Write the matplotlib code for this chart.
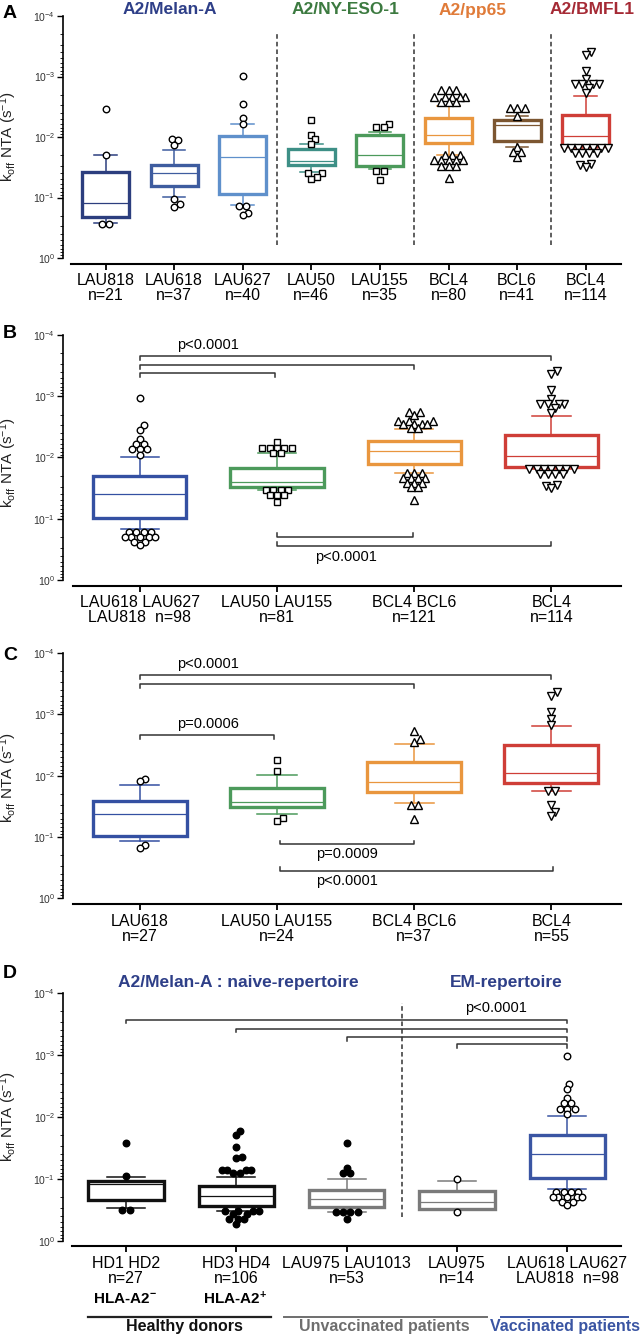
import numpy as np
import matplotlib
matplotlib.use('Agg')
import matplotlib.pyplot as plt
from matplotlib.ticker import LogLocator, NullFormatter
from matplotlib.lines import Line2D

plt.rcParams['font.family'] = ['Liberation Sans', 'DejaVu Sans']
plt.rcParams['mathtext.fontset'] = 'custom'
plt.rcParams['mathtext.rm'] = 'Liberation Sans'
plt.rcParams['mathtext.it'] = 'Liberation Sans:italic'
plt.rcParams['mathtext.bf'] = 'Liberation Sans:bold'

# ----------------------------- DATA -----------------------------
# Panel A
A_labels = ['LAU818\nn=21', 'LAU618\nn=37', 'LAU627\nn=40', 'LAU50\nn=46',
            'LAU155\nn=35', 'BCL4\nn=80', 'BCL6\nn=41', 'BCL4\nn=114']
A_q1 = [0.0375, 0.0294, 0.00973, 0.0160, 0.00927, 0.00491, 0.00524, 0.00434]
A_med = [0.122, 0.0398, 0.0212, 0.0247, 0.0200, 0.00927, 0.00633, 0.0095]
A_q3 = [0.212, 0.0638, 0.0875, 0.0287, 0.0298, 0.0127, 0.01164, 0.0141]
A_wlo = [0.0199, 0.0162, 0.00603, 0.0132, 0.00817, 0.00308, 0.0045, 0.00213]
A_whi = [0.261, 0.097, 0.1346, 0.0379, 0.0342, 0.0199, 0.01445, 0.0154]
A_fl_lau818 = [0.00344, 0.0199, 0.272, 0.272]
A_fl_lau618 = [0.01067, 0.01135, 0.0134, 0.105, 0.13, 0.142]
A_fl_lau627 = [0.00097, 0.00288, 0.00491, 0.0061, 0.137, 0.137, 0.182, 0.197]
A_fl_lau50 = [0.00524, 0.00927, 0.0109, 0.0131, 0.0394, 0.0394, 0.0453, 0.0489]
A_fl_lau155 = [0.0061, 0.0068, 0.0068, 0.0369, 0.0369, 0.052]
A_fl_bcl4 = [0.00167, 0.00167, 0.00167, 0.00216, 0.00216, 0.00216, 0.00216, 0.00216,
             0.0026, 0.0026, 0.0026, 0.0199, 0.0199, 0.0199, 0.024, 0.024, 0.024,
             0.024, 0.024, 0.0298, 0.0298, 0.0298, 0.048]
A_fl_bcl6 = [0.00336, 0.00336, 0.00336, 0.0045, 0.0145, 0.0175, 0.0175, 0.0217]
fl_bmfl1 = [0.00039, 0.00044, 0.0008, 0.0011, 0.00132, 0.00132, 0.00132, 0.00132,
            0.00157, 0.00188, 0.0154, 0.0154, 0.0154, 0.0154, 0.0154, 0.0154, 0.0154,
            0.0186, 0.0186, 0.0186, 0.0186, 0.028, 0.029, 0.031]

# Panel B
B_labels = ['LAU618 LAU627\nLAU818  n=98', 'LAU50 LAU155\nn=81', 'BCL4 BCL6\nn=121', 'BCL4\nn=114']
B_q1 = [0.0199, 0.0147, 0.0054, 0.00434]
B_med = [0.0396, 0.0249, 0.00778, 0.0095]
B_q3 = [0.0985, 0.0301, 0.0128, 0.0141]
B_wlo = [0.00985, 0.00857, 0.0034, 0.00213]
B_whi = [0.149, 0.034, 0.0178, 0.0154]
fl_melan98 = [0.00105, 0.00296, 0.00357, 0.00507, 0.00604, 0.00604, 0.00738, 0.00738, 0.00738,
              0.00914, 0.163, 0.163, 0.163, 0.163, 0.197, 0.197, 0.197, 0.197, 0.197,
              0.237, 0.237, 0.269]
B_fl_nyeso = [0.00554, 0.00711, 0.00711, 0.00711, 0.00711, 0.00711, 0.00857, 0.00857,
              0.034, 0.034, 0.034, 0.034, 0.041, 0.041, 0.041, 0.0528]
B_fl_pp65 = [0.0018, 0.0018, 0.00205, 0.00252, 0.00252, 0.00252, 0.00289, 0.00289, 0.00289,
             0.00289, 0.00335, 0.00335, 0.0182, 0.0182, 0.0182, 0.0215, 0.0215, 0.0215,
             0.0215, 0.0258, 0.0258, 0.0258, 0.0301, 0.0301, 0.0485]

# Panel C
C_labels = ['LAU618\nn=27', 'LAU50 LAU155\nn=24', 'BCL4 BCL6\nn=37', 'BCL4\nn=55']
C_q1 = [0.0259, 0.0159, 0.00591, 0.00316]
C_med = [0.0426, 0.0272, 0.0125, 0.00914]
C_q3 = [0.0964, 0.032, 0.0182, 0.013]
C_wlo = [0.014, 0.00975, 0.00304, 0.00155]
C_whi = [0.115, 0.0417, 0.0282, 0.0176]
C_fl_melan = [0.0112, 0.0121, 0.137, 0.15]
C_fl_nyeso = [0.00554, 0.00828, 0.0484, 0.0542]
C_fl_pp65 = [0.00187, 0.00255, 0.00285, 0.0301, 0.0301, 0.0503]
C_fl_bmfl1 = [0.000436, 0.0005, 0.000904, 0.0012, 0.00149, 0.0176, 0.0176, 0.0301, 0.0387, 0.0454]

# Panel D
D_labels = ['HD1 HD2\nn=27', 'HD3 HD4\nn=106', 'LAU975 LAU1013\nn=53', 'LAU975\nn=14',
            'LAU618 LAU627\nLAU818  n=98']
D_q1 = [0.109, 0.13, 0.152, 0.158, 0.0199]
D_med = [0.122, 0.19, 0.212, 0.238, 0.0396]
D_q3 = [0.221, 0.272, 0.289, 0.312, 0.0985]
D_wlo = [0.094, 0.095, 0.101, 0.109, 0.00985]
D_whi = [0.30, 0.332, 0.34, 0.32, 0.149]
D_fl_hd12 = [0.0263, 0.0904, 0.32, 0.32]
D_fl_hd34 = [0.0168, 0.0197, 0.0312, 0.0442, 0.0469, 0.0724, 0.0724, 0.0724, 0.0724, 0.08, 0.08,
             0.328, 0.328, 0.328, 0.328, 0.371, 0.371, 0.442, 0.442, 0.442, 0.538]
D_fl_unvac = [0.0263, 0.0665, 0.0818, 0.0818, 0.34, 0.34, 0.34, 0.34, 0.442]
D_fl_lau975 = [0.102, 0.34]

# ----------------------------- STYLE -----------------------------
W, H = 641, 1334
fig = plt.figure(figsize=(W / 100, H / 100), dpi=100)
fig.patch.set_facecolor('white')

BLUE_T = '#2E3F88'
A_colors = ['#2C3E7E', '#3E5C9F', '#5F90CB', '#3D8F86', '#4C9A5B', '#E9963E', '#7C5631', '#CF3E37']
BC_colors = ['#3450A2', '#4C9A5B', '#E9963E', '#CF3E37']
D_colors = ['#111111', '#111111', '#7A7A7A', '#7A7A7A', '#3A55A3']
MS = {'o': 4.7, 's': 4.6, '^': 5.3, 'v': 5.3}


def fx(x):
    return x / W


def fy(y):
    return 1 - y / H


def make_axes(left, top, right, bottom, xlim, xstart):
    ax = fig.add_axes([fx(left), fy(bottom), (right - left) / W, (bottom - top) / H])
    ax.set_yscale('log')
    ax.set_ylim(1, 1e-4)
    ax.set_xlim(*xlim)
    for s in ['top', 'right']:
        ax.spines[s].set_visible(False)
    ax.spines['left'].set_linewidth(1.2)
    ax.spines['bottom'].set_linewidth(1.5)
    ax.spines['bottom'].set_position(('outward', 4))
    ax.spines['bottom'].set_bounds(xstart, xlim[1])
    ax.yaxis.set_major_locator(LogLocator(base=10, numticks=10))
    ax.yaxis.set_minor_locator(LogLocator(base=10, subs=np.arange(2, 10), numticks=30))
    ax.yaxis.set_minor_formatter(NullFormatter())
    ax.tick_params(axis='y', which='major', length=4, width=1.0, labelsize=7.5, pad=2,
                   labelcolor='#333333')
    ax.tick_params(axis='y', which='minor', length=2, width=0.6)
    ax.tick_params(axis='x', length=4, width=1.3, pad=3)
    ax.patch.set_alpha(0)
    return ax


def draw_boxes(ax, pos, q1, med, q3, wlo, whi, colors, width, capw, blw=2.4):
    stats = [dict(q1=a, med=b, q3=c, whislo=d, whishi=e, fliers=[])
             for a, b, c, d, e in zip(q1, med, q3, wlo, whi)]
    r = ax.bxp(stats, positions=pos, widths=width, capwidths=capw, patch_artist=True,
               showfliers=False, manage_ticks=False,
               boxprops=dict(facecolor='white', linewidth=blw),
               medianprops=dict(linewidth=0.9),
               whiskerprops=dict(linewidth=1.1), capprops=dict(linewidth=1.1))
    for i, c in enumerate(colors):
        r['boxes'][i].set_edgecolor(c)
        r['medians'][i].set_color(c)
        for k in (2 * i, 2 * i + 1):
            r['whiskers'][k].set_color(c)
            r['caps'][k].set_color(c)
    return r


def swarm(ax, x0, values, d=7.4, tol=0.72):
    """Row-wise symmetric beeswarm (display pixels); each point shifts only if it collides."""
    vals = np.asarray(values, dtype=float)
    pts = ax.transData.transform(np.column_stack([np.full(len(vals), x0), vals]))
    ys = pts[:, 1]
    order = np.argsort(ys)
    rows = []
    for i in order:
        if rows and abs(ys[i] - ys[rows[-1][0]]) < 1.0:
            rows[-1].append(i)
        else:
            rows.append([i])
    fine = [0.0]
    for k in range(1, 80):
        fine += [k * d / 4, -k * d / 4]
    placed = []
    offs = np.zeros(len(vals))
    lim2 = (tol * d) ** 2
    for row in rows:
        n = len(row)
        base = (np.arange(n) - (n - 1) / 2) * d
        base = sorted(base, key=lambda b: (abs(b), b))
        for i, b in zip(row, base):
            y = ys[i]
            chosen = b
            for s in fine:
                c = b + s
                if all((c - px) ** 2 + (y - py) ** 2 >= lim2 for px, py in placed):
                    chosen = c
                    break
            offs[i] = chosen
            placed.append((chosen, y))
    back = ax.transData.inverted().transform(np.column_stack([pts[:, 0] + offs, ys]))
    return back[:, 0], vals


def draw_fliers(ax, x0, values, marker, fill='white'):
    xs, ys = swarm(ax, x0, values)
    ax.plot(xs, ys, linestyle='none', marker=marker, mfc=fill, mec='black',
            ms=MS[marker], mew=1.0, zorder=6, clip_on=False)


def bracket(ax, x1, x2, y, yend, lw=1.1):
    tr = ax.get_xaxis_transform()
    ax.plot([x1, x1, x2, x2], [yend, y, y, yend], color='#333333', lw=lw,
            transform=tr, clip_on=False, zorder=3)


def ylabel(yc):
    fig.text(fx(8.5), fy(yc), r'k$_{\mathrm{off}}$ NTA (s$^{\mathrm{-1}}$)', rotation=90,
             ha='center', va='center', fontsize=11, color='#222222')


def letter(y, s):
    fig.text(fx(10), fy(y), s, ha='center', va='center', fontsize=14, fontweight='bold')


# ----------------------------- PANEL A -----------------------------
xlimA = (-0.614, 7.52)
axA = make_axes(63.4, 16, 621.4, 258, xlimA, -0.496)
posA = list(range(len(A_labels)))
draw_boxes(axA, posA, A_q1, A_med, A_q3, A_wlo, A_whi, A_colors, 0.685, 0.33)
A_fl = [A_fl_lau818, A_fl_lau618, A_fl_lau627, A_fl_lau50, A_fl_lau155, A_fl_bcl4, A_fl_bcl6, fl_bmfl1]
A_mk = ['o', 'o', 'o', 's', 's', '^', '^', 'v']
for p, f, m in zip(posA, A_fl, A_mk):
    draw_fliers(axA, p, f, m)
axA.set_xticks(posA)
axA.set_xticklabels(A_labels, fontsize=11.5, linespacing=1.0)
for xv in (2.5, 4.5, 6.5):
    axA.axvline(xv, ymin=0.054, ymax=0.93, color='#333333', lw=1.1, ls=(0, (3, 2)))
letter(14, 'A')
ylabel(137)
A_titles = ['A2/Melan-A', 'A2/NY-ESO-1', 'A2/pp65', 'A2/BMFL1']
A_tcol = [BLUE_T, '#3C7A40', '#E07B39', '#A52A35']
A_tx = [170, 346, 473, 592]
for t, c, x in zip(A_titles, A_tcol, A_tx):
    fig.text(fx(x), fy(10), t, ha='center', va='center', fontsize=12.5, fontweight='bold', color=c)

# ----------------------------- PANEL B -----------------------------
posBC = [0.5, 2.5, 4.5, 6.5]
axB = make_axes(63.4, 335, 621.4, 580, xlimA, -0.48)
draw_boxes(axB, posBC, B_q1, B_med, B_q3, B_wlo, B_whi, BC_colors, 1.36, 0.56)
for p, f, m in zip(posBC, [fl_melan98, B_fl_nyeso, B_fl_pp65, fl_bmfl1], ['o', 's', '^', 'v']):
    draw_fliers(axB, p, f, m)
axB.set_xticks(posBC)
axB.set_xticklabels(B_labels, fontsize=11.5, linespacing=1.0)
bracket(axB, 0.5, 6.5, 0.915, 0.898)
bracket(axB, 0.5, 4.5, 0.878, 0.862)
bracket(axB, 0.5, 2.47, 0.846, 0.830)
bracket(axB, 2.5, 4.48, 0.177, 0.193)
bracket(axB, 2.5, 6.5, 0.139, 0.154)
axB.text(1.5, 0.959, 'p<0.0001', transform=axB.get_xaxis_transform(), ha='center', va='center', fontsize=10.5)
axB.text(3.5, 0.095, 'p<0.0001', transform=axB.get_xaxis_transform(), ha='center', va='center', fontsize=10.5)
letter(334, 'B')
ylabel(463)

# ----------------------------- PANEL C -----------------------------
axC = make_axes(63.4, 653, 621.4, 898.3, xlimA, -0.47)
draw_boxes(axC, posBC, C_q1, C_med, C_q3, C_wlo, C_whi, BC_colors, 1.37, 0.57)
for p, f, m in zip(posBC, [C_fl_melan, C_fl_nyeso, C_fl_pp65, C_fl_bmfl1], ['o', 's', '^', 'v']):
    draw_fliers(axC, p, f, m)
axC.set_xticks(posBC)
axC.set_xticklabels(C_labels, fontsize=11.5, linespacing=1.0)
bracket(axC, 0.5, 6.5, 0.910, 0.894)
bracket(axC, 0.5, 4.5, 0.872, 0.856)
bracket(axC, 0.5, 2.45, 0.666, 0.649)
bracket(axC, 2.54, 4.5, 0.220, 0.235)
bracket(axC, 2.54, 6.52, 0.1125, 0.129)
trC = axC.get_xaxis_transform()
axC.text(1.5, 0.955, 'p<0.0001', transform=trC, ha='center', va='center', fontsize=10.5)
axC.text(1.5, 0.711, 'p=0.0006', transform=trC, ha='center', va='center', fontsize=10.5)
axC.text(3.52, 0.179, 'p=0.0009', transform=trC, ha='center', va='center', fontsize=10.5)
axC.text(3.52, 0.072, 'p<0.0001', transform=trC, ha='center', va='center', fontsize=10.5)
letter(655, 'C')
ylabel(778)

# ----------------------------- PANEL D -----------------------------
xlimD = (-0.567, 4.49)
axD = make_axes(63.4, 992.7, 621.4, 1240.7, xlimD, -0.493)
posD = list(range(len(D_labels)))
draw_boxes(axD, posD, D_q1, D_med, D_q3, D_wlo, D_whi, D_colors, 0.685, 0.345)
D_fl = [D_fl_hd12, D_fl_hd34, D_fl_unvac, D_fl_lau975, fl_melan98]
D_fill = ['black', 'black', 'black', 'white', 'white']
for p, f, c in zip(posD, D_fl, D_fill):
    draw_fliers(axD, p, f, 'o', fill=c)
axD.set_xticks(posD)
axD.set_xticklabels(D_labels, fontsize=11.5, linespacing=1.0)
axD.axvline(2.5, ymin=0.096, ymax=0.958, color='#333333', lw=1.1, ls=(0, (3, 2)))
bracket(axD, 0, 4, 0.890, 0.877)
bracket(axD, 1, 4, 0.854, 0.840)
bracket(axD, 2, 4, 0.823, 0.806)
bracket(axD, 3, 4, 0.792, 0.776)
axD.text(3.35, 0.937, 'p<0.0001', transform=axD.get_xaxis_transform(), ha='center', va='center', fontsize=10.5)
letter(974, 'D')
ylabel(1117)
fig.text(fx(238), fy(983), 'A2/Melan-A : naive-repertoire', ha='center', va='center',
         fontsize=12.5, fontweight='bold', color=BLUE_T)
fig.text(fx(506), fy(983), 'EM-repertoire', ha='center', va='center',
         fontsize=12.5, fontweight='bold', color=BLUE_T)

# bottom group annotations
fig.text(fx(125), fy(1299), r'HLA-A2$^{\mathbf{-}}$', ha='center', va='center', fontsize=11, fontweight='bold')
fig.text(fx(235), fy(1299), r'HLA-A2$^{\mathbf{+}}$', ha='center', va='center', fontsize=11, fontweight='bold')
group_lines = [((88, 270.6), '#222222', 1.6), ((284, 486.5), '#6E6E6E', 1.4), ((500.8, 627.6), '#3A55A3', 1.4)]
for (x1, x2), c, lw in group_lines:
    fig.add_artist(Line2D([fx(x1), fx(x2)], [fy(1316.7), fy(1316.7)], color=c, lw=lw,
                          transform=fig.transFigure))
fig.text(fx(184), fy(1326), 'Healthy donors', ha='center', va='center', fontsize=11.5,
         fontweight='bold', color='#111111')
fig.text(fx(384), fy(1326), 'Unvaccinated patients', ha='center', va='center', fontsize=11.5,
         fontweight='bold', color='#6E6E6E')
fig.text(fx(565), fy(1326), 'Vaccinated patients', ha='center', va='center', fontsize=11.5,
         fontweight='bold', color='#3A55A3')

fig.savefig('out.png', dpi=100, facecolor='white')
